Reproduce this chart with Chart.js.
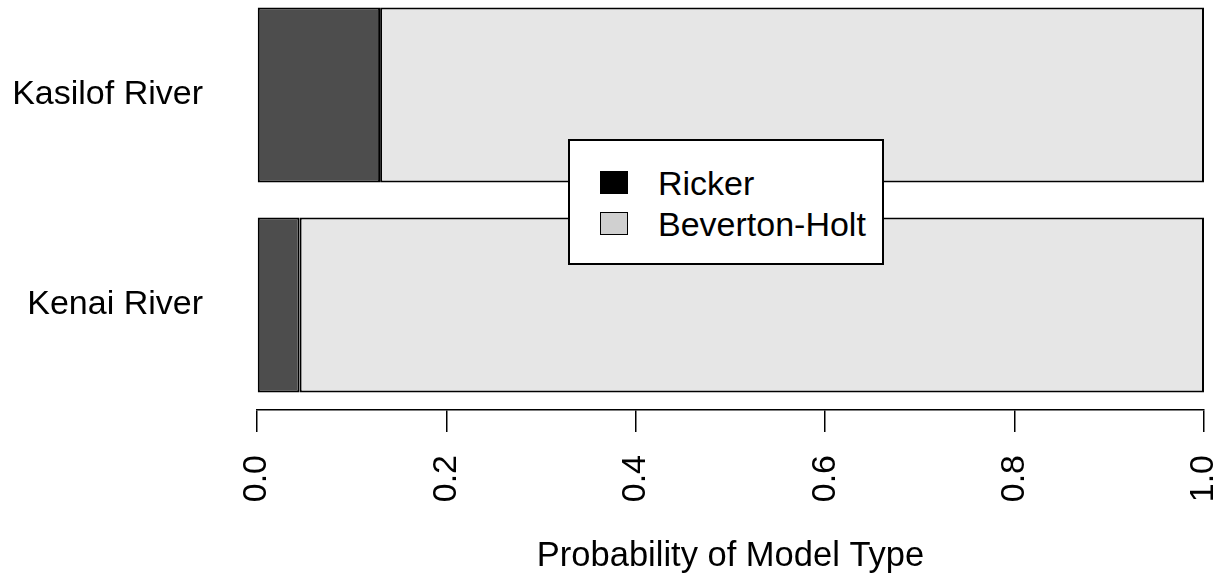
<!DOCTYPE html>
<html>
<head>
<meta charset="utf-8">
<script src="https://cdn.jsdelivr.net/npm/chart.js@4"></script>
<style>
  html, body { margin: 0; padding: 0; background: #fff; overflow: hidden; }
  #wrap { position: relative; width: 1224px; height: 577px; }
  #chart { position: absolute; left: 0; top: -10px; }
  #legend {
    position: absolute; left: 568px; top: 139px; width: 312px; height: 122px;
    border: 2px solid #000; background: #fff;
    font-family: "Liberation Sans", Arial, sans-serif; font-size: 34px; color: #000;
  }
  .item { position: absolute; left: 30px; height: 40px; line-height: 40px; }
  .swatch {
    position: absolute; left: 0; top: 8px; width: 26px; height: 21px;
    border: 1.5px solid #000;
  }
  .item span { position: absolute; left: 58px; white-space: nowrap; }
</style>
</head>
<body>
<div id="wrap">
  <canvas id="chart" width="1224" height="587"></canvas>
  <div id="legend"></div>
</div>
<script>
const rivers = ['Kasilof River', 'Kenai River'];
const rickerProb = [0.13, 0.045];
const bevertonProb = [0.87, 0.955];
const xTicks = [0, 0.2, 0.4, 0.6, 0.8, 1.0];

const legendItems = [
  { label: 'Ricker', swatch: '#000000' },
  { label: 'Beverton-Holt', swatch: '#d0d0d0' },
];

const fontFamily = '"Liberation Sans", Arial, sans-serif';

const ctx = document.getElementById('chart').getContext('2d');
new Chart(ctx, {
  type: 'bar',
  data: {
    labels: rivers,
    datasets: [{
      label: 'Ricker',
      data: rickerProb,
      backgroundColor: '#4d4d4d',
    }, {
      label: 'Beverton-Holt',
      data: bevertonProb,
      backgroundColor: '#e6e6e6',
    }],
  },
  options: {
    indexAxis: 'y',
    responsive: false,
    animation: false,
    layout: { padding: { top: 0, right: 20, bottom: 0, left: 0 } },
    datasets: {
      bar: {
        borderColor: '#000',
        borderWidth: 2,
        borderSkipped: false,
        categoryPercentage: 1,
        barPercentage: 0.833,
      },
    },
    plugins: {
      legend: { display: false },
      tooltip: { enabled: false },
    },
    scales: {
      x: {
        stacked: true,
        min: 0,
        max: 1,
        afterBuildTicks(scale) {
          scale.ticks = xTicks.map((v) => ({ value: v }));
        },
        afterFit(scale) {
          // fixed axis box so the plot area lines up with the original
          scale.height = 167;
          scale.paddingLeft = 0;
          scale.paddingRight = 0;
          scale.paddingTop = 0;
          scale.paddingBottom = 0;
        },
        ticks: {
          callback: (v) => Number(v).toFixed(1),
          minRotation: 90,
          maxRotation: 90,
          padding: 23,
          color: '#000',
          font: { family: fontFamily, size: 34 },
        },
        grid: {
          drawOnChartArea: false,
          drawTicks: true,
          tickLength: 22,
          color: '#000',
          lineWidth: 1.5,
        },
        border: { display: true, color: '#000', width: 1.5 },
        title: {
          display: true,
          text: 'Probability of Model Type',
          color: '#000',
          font: { family: fontFamily, size: 34.5 },
          padding: { top: 0, bottom: 0 },
        },
      },
      y: {
        stacked: true,
        afterFit(scale) {
          scale.width = 257;
          scale.paddingTop = 0;
          scale.paddingBottom = 0;
          scale.paddingLeft = 0;
          scale.paddingRight = 0;
        },
        ticks: {
          padding: 54,
          color: '#000',
          font: { family: fontFamily, size: 34 },
        },
        grid: { display: false, drawTicks: false },
        border: { display: false },
      },
    },
  },
});

const legend = document.getElementById('legend');
legendItems.forEach((item, i) => {
  const row = document.createElement('div');
  row.className = 'item';
  row.style.top = (22 + i * 41) + 'px';
  const sw = document.createElement('div');
  sw.className = 'swatch';
  sw.style.background = item.swatch;
  const txt = document.createElement('span');
  txt.textContent = item.label;
  row.appendChild(sw);
  row.appendChild(txt);
  legend.appendChild(row);
});
</script>
</body>
</html>
